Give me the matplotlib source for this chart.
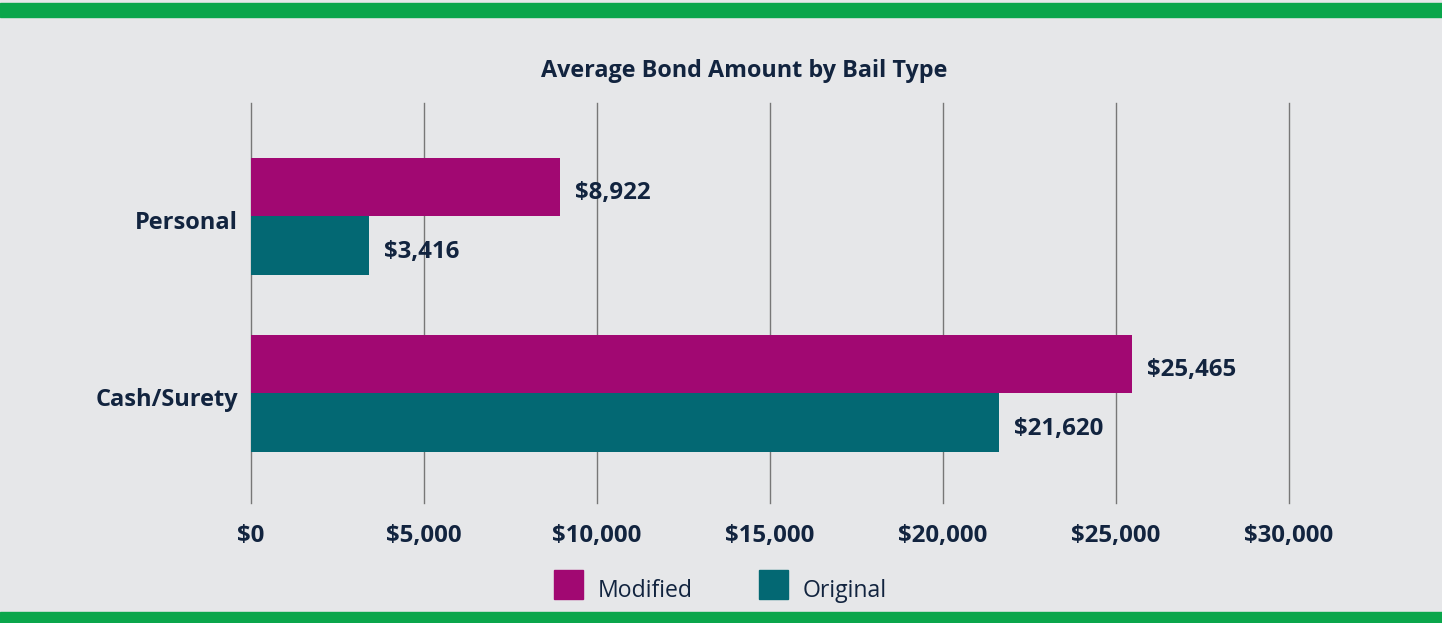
import matplotlib
matplotlib.use("Agg")
import matplotlib.pyplot as plt
from matplotlib.patches import Rectangle
import numpy as np

categories = ["Personal", "Cash/Surety"]
modified = [8922, 25465]
original = [3416, 21620]
xticks = [0, 5000, 10000, 15000, 20000, 25000, 30000]
xtick_labels = ["$0", "$5,000", "$10,000", "$15,000", "$20,000", "$25,000", "$30,000"]
series_names = ["Modified", "Original"]

BG = "#E6E7E9"
GREEN = "#0AA64B"
MAG = "#A10872"
TEAL = "#036873"
TXT = "#12243F"
FONT = "Open Sans"
FS = 17.3

fig = plt.figure(figsize=(14.42, 6.23), dpi=100)
fig.patch.set_facecolor(BG)
W, H = 1442, 623
PX = 72 / 100  # points per pixel

# top and bottom green bands
fig.add_artist(Rectangle((0, 1 - 17 / H), 1, 14 / H, transform=fig.transFigure, color=GREEN, zorder=0))
fig.add_artist(Rectangle((0, 0), 1, 11 / H, transform=fig.transFigure, color=GREEN, zorder=0))

ax = fig.add_axes([251 / W, 1 - 503 / H, (1289 - 251) / W, 400 / H])
ax.set_facecolor(BG)
y = np.arange(len(categories))
h = 0.33
ax.barh(y - h / 2, modified, height=h, color=MAG, zorder=2)
ax.barh(y + h / 2, original, height=h, color=TEAL, zorder=2)
ax.set_xlim(0, 30000)
ax.set_ylim(1.62, -0.64)
for s in ax.spines.values():
    s.set_visible(False)
ax.set_xticks(xticks)
ax.set_xticklabels(xtick_labels)
ax.tick_params(axis="both", length=0)
ax.tick_params(axis="x", pad=15)
ax.set_yticks([])
for xv in xticks:
    ax.axvline(xv, color="#777777", linewidth=1.0, zorder=1, clip_on=False)
for lab in ax.get_xticklabels():
    lab.set_fontfamily(FONT)
    lab.set_fontweight("bold")
    lab.set_fontsize(FS)
    lab.set_color(TXT)

# category labels
for yi, name in zip(y, categories):
    ax.annotate(name, xy=(0, yi), xycoords=("axes fraction", "data"),
                xytext=(-13 * PX, -13 * PX), textcoords="offset points",
                ha="right", va="baseline", fontsize=FS - 0.3, fontweight="bold",
                color=TXT, family=FONT, annotation_clip=False)

# value labels
for yi, v in zip(y, modified):
    ax.annotate(f"${v:,}", xy=(v, yi - h / 2), xytext=(15 * PX, -12 * PX),
                textcoords="offset points", ha="left", va="baseline", fontsize=FS,
                fontweight="bold", color=TXT, family=FONT)
for yi, v in zip(y, original):
    ax.annotate(f"${v:,}", xy=(v, yi + h / 2), xytext=(15 * PX, -12.5 * PX),
                textcoords="offset points", ha="left", va="baseline", fontsize=FS,
                fontweight="bold", color=TXT, family=FONT)

fig.text(744 / W, 1 - 77 / H, "Average Bond Amount by Bail Type", ha="center", va="baseline",
         fontsize=16.8, fontweight="bold", color=TXT, family=FONT)

# legend
for (x0, name, col) in [(554, series_names[0], MAG), (759, series_names[1], TEAL)]:
    fig.add_artist(Rectangle((x0 / W, 1 - 599 / H), 29 / W, 29 / H, transform=fig.transFigure,
                             color=col, zorder=3))
    fig.text((x0 + 44) / W, 1 - 597 / H, name, ha="left", va="baseline", fontsize=16.6,
             color=TXT, family=FONT)

fig.savefig("out.png", dpi=100, facecolor=BG)
